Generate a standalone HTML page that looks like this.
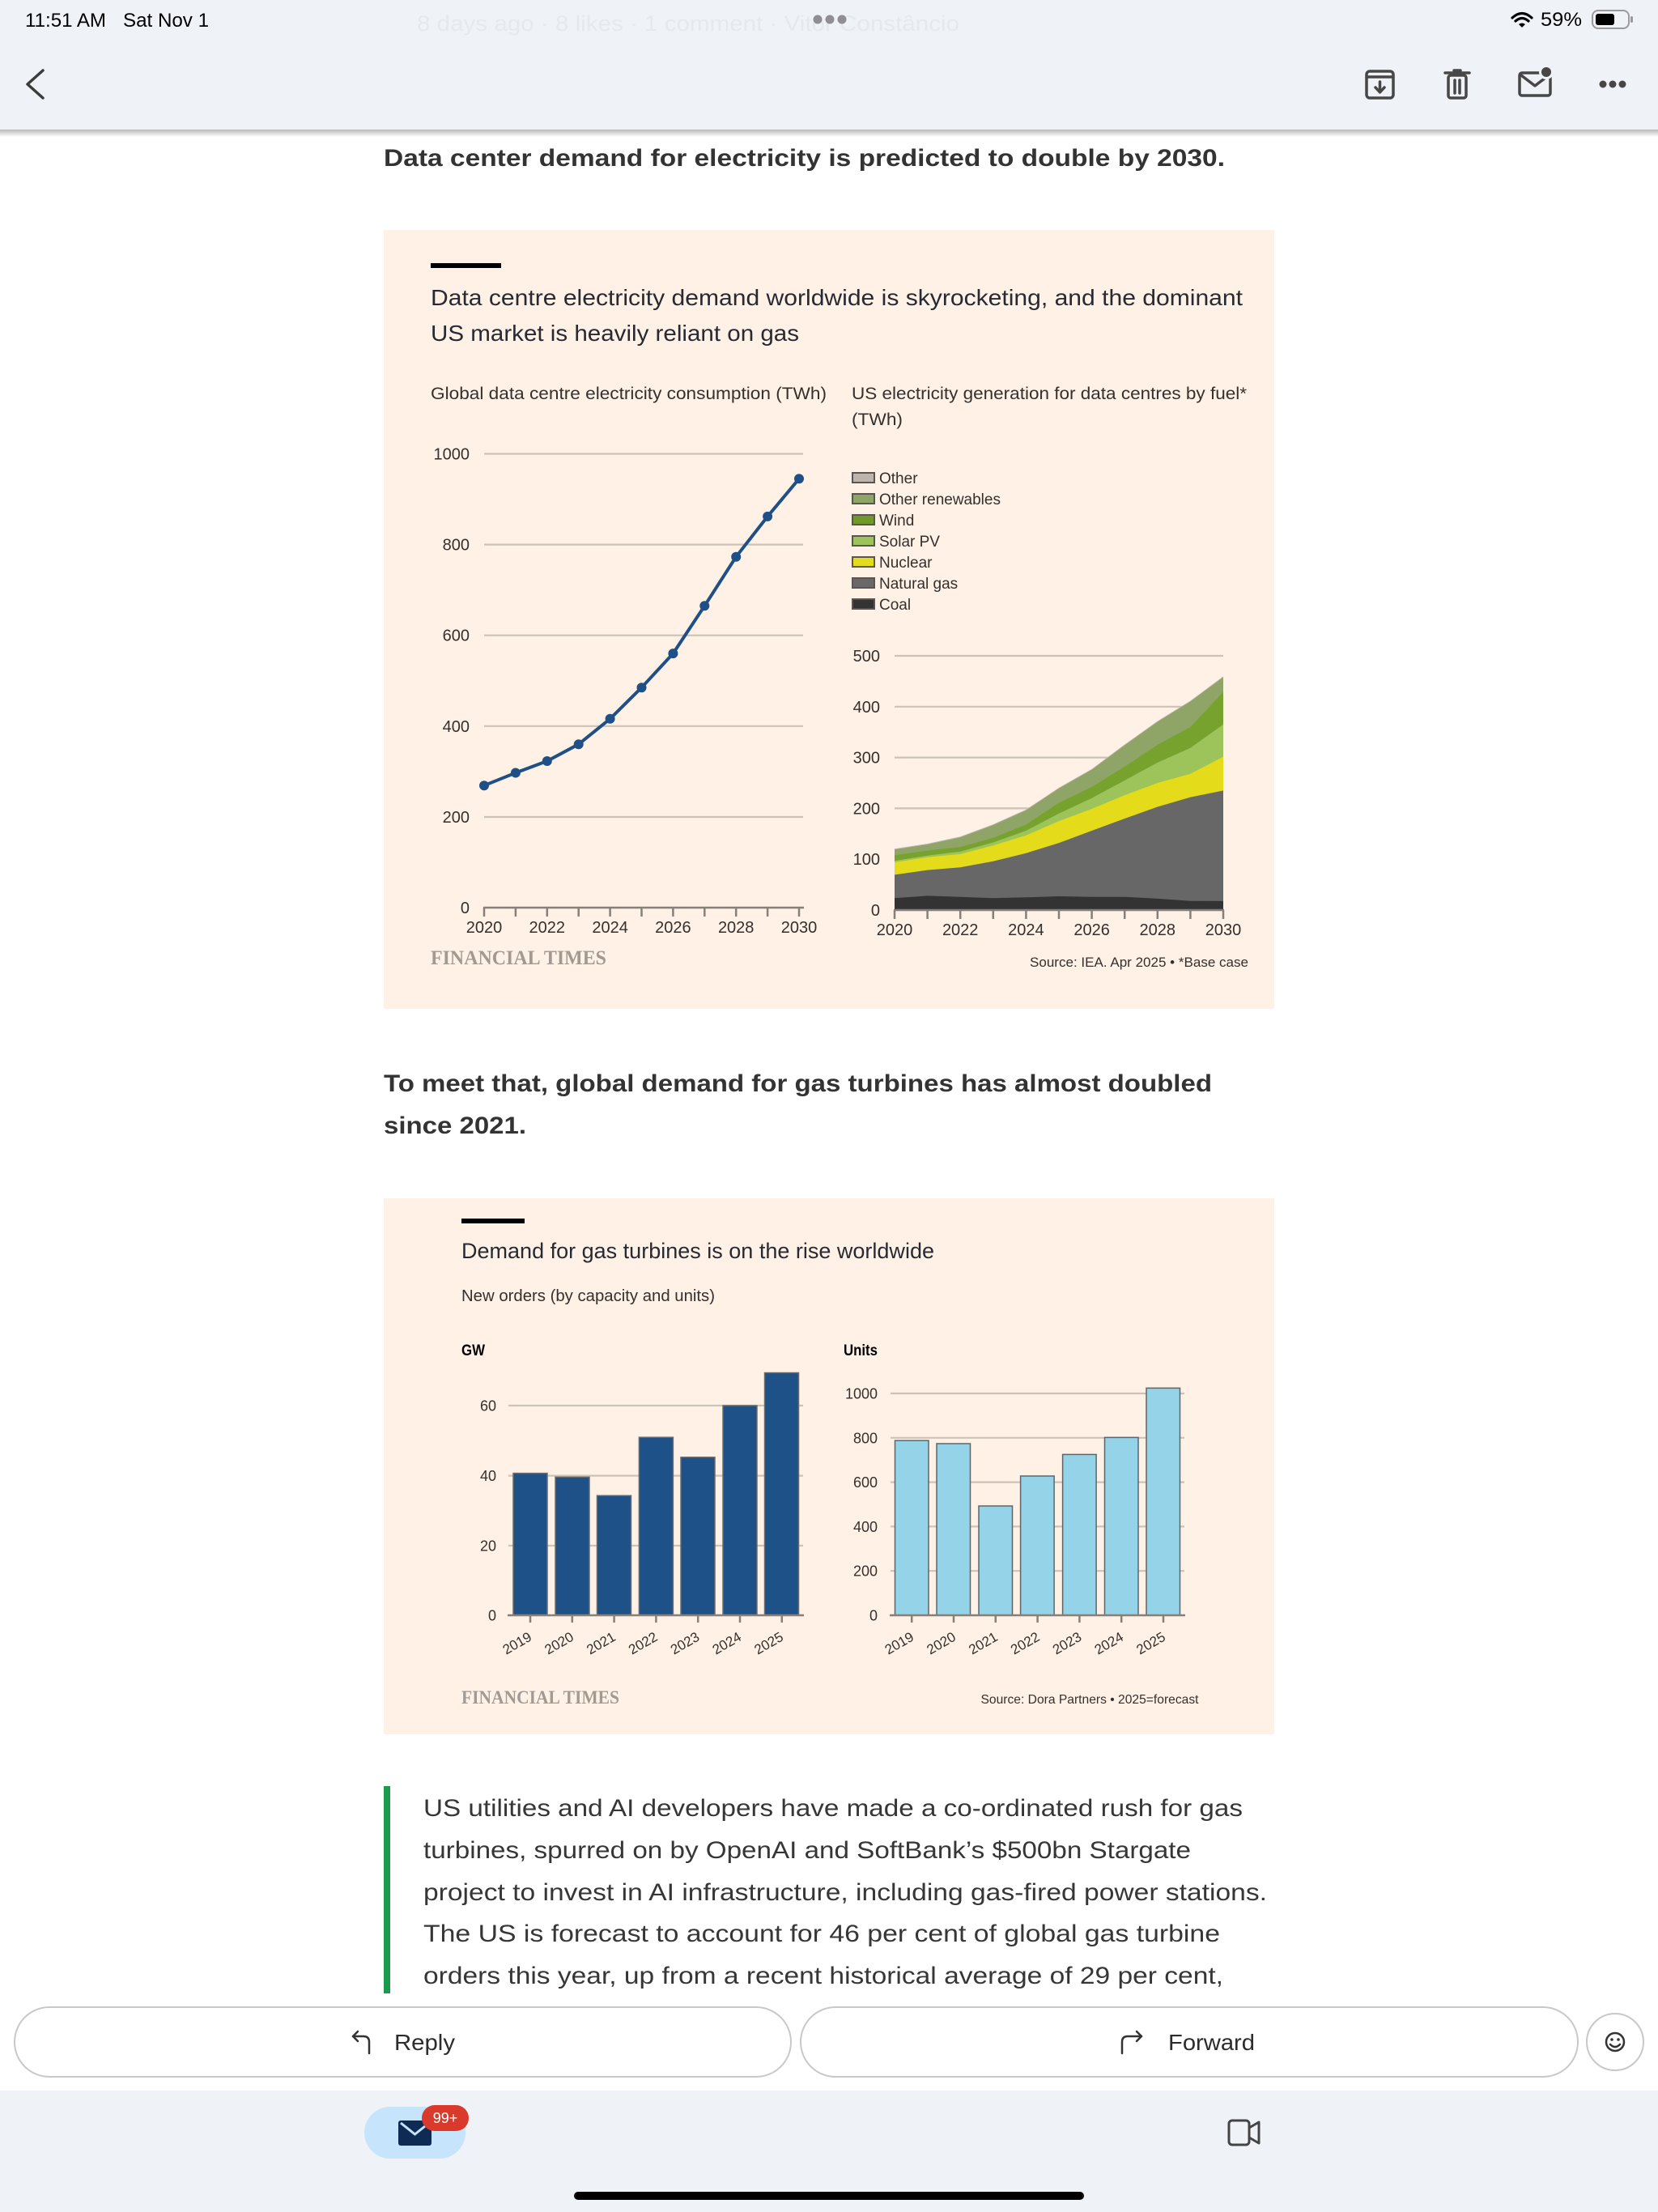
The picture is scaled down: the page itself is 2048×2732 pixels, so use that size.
<!DOCTYPE html>
<html>
<head>
<meta charset="utf-8">
<style>
  html, body { margin:0; padding:0; background:#ffffff; }
  svg { display:block; }
  text { font-family: "Liberation Sans", "DejaVu Sans", sans-serif; }
  .serif { font-family: "Liberation Serif", serif; }
</style>
</head>
<body>
<svg width="2048" height="2732" viewBox="0 0 2048 2732" xmlns="http://www.w3.org/2000/svg">
  <defs>
    <linearGradient id="sh" x1="0" y1="0" x2="0" y2="1">
      <stop offset="0" stop-color="#000" stop-opacity="0.28"/>
      <stop offset="1" stop-color="#000" stop-opacity="0"/>
    </linearGradient>
  </defs>
  <rect x="0" y="0" width="2048" height="2732" fill="#ffffff"/>

  <!-- ===== Top header ===== -->
  <rect x="0" y="0" width="2048" height="160" fill="#eff2f7"/>
  <rect x="0" y="160" width="2048" height="9" fill="url(#sh)"/>
  <text x="515" y="38" font-size="27" fill="#e5e8ed" textLength="670" lengthAdjust="spacingAndGlyphs">8 days ago · 8 likes · 1 comment · Vitor Constâncio</text>
  <text x="31" y="33" font-size="24" fill="#000" textLength="100" lengthAdjust="spacingAndGlyphs">11:51 AM</text>
  <text x="152" y="33" font-size="24" fill="#000" textLength="106" lengthAdjust="spacingAndGlyphs">Sat Nov 1</text>
  <circle cx="1010" cy="24" r="5.5" fill="#8e8e93"/>
  <circle cx="1025" cy="24" r="5.5" fill="#8e8e93"/>
  <circle cx="1040" cy="24" r="5.5" fill="#8e8e93"/>
  <!-- wifi -->
  <g fill="none" stroke="#000" stroke-width="3.2" stroke-linecap="round">
    <path d="M1868 22 Q1880 11 1892 22"/>
    <path d="M1872 26 Q1880 19 1888 26"/>
  </g>
  <path d="M1876 30 L1880 34 L1884 30 Q1880 27 1876 30 Z" fill="#000"/>
  <text x="1903" y="32" font-size="24" fill="#000" textLength="51" lengthAdjust="spacingAndGlyphs">59%</text>
  <rect x="1967" y="13" width="45" height="22" rx="7" fill="none" stroke="#9a9a9a" stroke-width="2"/>
  <rect x="1971" y="17" width="23" height="14" rx="3" fill="#000"/>
  <rect x="2014" y="20" width="3" height="8" rx="1.5" fill="#9a9a9a"/>
  <!-- back chevron -->
  <polyline points="53,87 34,104 53,121" fill="none" stroke="#3c3c3c" stroke-width="3.5" stroke-linecap="round" stroke-linejoin="round"/>
  <!-- archive -->
  <g fill="none" stroke="#474747" stroke-width="3.5" stroke-linejoin="round" stroke-linecap="round">
    <rect x="1688" y="88" width="33" height="33" rx="4"/>
    <line x1="1688" y1="95" x2="1721" y2="95"/>
    <line x1="1704.5" y1="101" x2="1704.5" y2="113"/>
    <polyline points="1699,108 1704.5,114 1710,108"/>
  </g>
  <!-- trash -->
  <g fill="none" stroke="#474747" stroke-width="3.5" stroke-linejoin="round" stroke-linecap="round">
    <line x1="1785" y1="90" x2="1815" y2="90"/>
    <line x1="1796" y1="87" x2="1804" y2="87"/>
    <rect x="1789" y="93" width="22" height="28" rx="3"/>
    <line x1="1797" y1="99" x2="1797" y2="115"/>
    <line x1="1803" y1="99" x2="1803" y2="115"/>
  </g>
  <!-- mail with dot -->
  <g fill="none" stroke="#474747" stroke-width="3.5" stroke-linejoin="round" stroke-linecap="round">
    <rect x="1877" y="90" width="38" height="28" rx="3"/>
    <polyline points="1879,93 1896,106 1913,93"/>
  </g>
  <circle cx="1910" cy="89" r="9" fill="#eff2f7"/>
  <circle cx="1910" cy="89" r="6" fill="#474747"/>
  <!-- more -->
  <circle cx="1980" cy="104" r="4.5" fill="#474747"/>
  <circle cx="1992" cy="104" r="4.5" fill="#474747"/>
  <circle cx="2004" cy="104" r="4.5" fill="#474747"/>

  <!-- ===== Heading 1 ===== -->
  <text x="474" y="205" font-size="30" font-weight="bold" fill="#333" textLength="1039" lengthAdjust="spacingAndGlyphs">Data center demand for electricity is predicted to double by 2030.</text>

  <!-- ===== Chart 1 ===== -->
  <rect x="474" y="284" width="1100" height="962" fill="#fff1e5"/>
  <rect x="532" y="325" width="87" height="6" fill="#000"/>
  <text x="532" y="377" font-size="28" fill="#262a33" textLength="1003" lengthAdjust="spacingAndGlyphs">Data centre electricity demand worldwide is skyrocketing, and the dominant</text>
  <text x="532" y="421" font-size="28" fill="#262a33" textLength="455" lengthAdjust="spacingAndGlyphs">US market is heavily reliant on gas</text>
  <text x="532" y="493" font-size="21" fill="#33302e" textLength="489" lengthAdjust="spacingAndGlyphs">Global data centre electricity consumption (TWh)</text>
  <text x="1052" y="493" font-size="21" fill="#33302e" textLength="488" lengthAdjust="spacingAndGlyphs">US electricity generation for data centres by fuel*</text>
  <text x="1052" y="525" font-size="21" fill="#33302e" textLength="63" lengthAdjust="spacingAndGlyphs">(TWh)</text>

  <!-- left line chart -->
  <g stroke="#ccc2b8" stroke-width="2.2">
    <line x1="598" y1="560.5" x2="992" y2="560.5"/>
    <line x1="598" y1="672.6" x2="992" y2="672.6"/>
    <line x1="598" y1="784.7" x2="992" y2="784.7"/>
    <line x1="598" y1="896.8" x2="992" y2="896.8"/>
    <line x1="598" y1="1009" x2="992" y2="1009"/>
  </g>
  <g font-size="20" fill="#33302e" text-anchor="end">
    <text x="580" y="567.5">1000</text>
    <text x="580" y="679.6">800</text>
    <text x="580" y="791.7">600</text>
    <text x="580" y="903.8">400</text>
    <text x="580" y="1016">200</text>
    <text x="580" y="1128">0</text>
  </g>
  <g stroke="#86807a" stroke-width="2.5">
    <line x1="597" y1="1121" x2="993" y2="1121"/>
    <line x1="598" y1="1121" x2="598" y2="1132"/>
    <line x1="636.9" y1="1121" x2="636.9" y2="1132"/>
    <line x1="675.8" y1="1121" x2="675.8" y2="1132"/>
    <line x1="714.7" y1="1121" x2="714.7" y2="1132"/>
    <line x1="753.6" y1="1121" x2="753.6" y2="1132"/>
    <line x1="792.5" y1="1121" x2="792.5" y2="1132"/>
    <line x1="831.4" y1="1121" x2="831.4" y2="1132"/>
    <line x1="870.3" y1="1121" x2="870.3" y2="1132"/>
    <line x1="909.2" y1="1121" x2="909.2" y2="1132"/>
    <line x1="948.1" y1="1121" x2="948.1" y2="1132"/>
    <line x1="987" y1="1121" x2="987" y2="1132"/>
  </g>
  <g font-size="20" fill="#33302e" text-anchor="middle">
    <text x="598" y="1152">2020</text>
    <text x="675.8" y="1152">2022</text>
    <text x="753.6" y="1152">2024</text>
    <text x="831.4" y="1152">2026</text>
    <text x="909.2" y="1152">2028</text>
    <text x="987" y="1152">2030</text>
  </g>
  <polyline points="598,970.2 636.9,954.5 675.8,940 714.7,919.2 753.6,887.8 792.5,849.2 831.4,807.1 870.3,748.3 909.2,687.7 948.1,637.9 987,591.3" fill="none" stroke="#1f4f87" stroke-width="4" stroke-linejoin="round"/>
  <g fill="#1f4f87">
    <circle cx="598" cy="970.2" r="6"/>
    <circle cx="636.9" cy="954.5" r="6"/>
    <circle cx="675.8" cy="940" r="6"/>
    <circle cx="714.7" cy="919.2" r="6"/>
    <circle cx="753.6" cy="887.8" r="6"/>
    <circle cx="792.5" cy="849.2" r="6"/>
    <circle cx="831.4" cy="807.1" r="6"/>
    <circle cx="870.3" cy="748.3" r="6"/>
    <circle cx="909.2" cy="687.7" r="6"/>
    <circle cx="948.1" cy="637.9" r="6"/>
    <circle cx="987" cy="591.3" r="6"/>
  </g>
  <text class="serif" x="532" y="1191" font-size="25" font-weight="bold" fill="#a09a93" textLength="217" lengthAdjust="spacingAndGlyphs">FINANCIAL TIMES</text>

  <!-- legend -->
  <g stroke="#5a5550" stroke-width="2">
    <rect x="1053" y="584" width="27" height="12" fill="#bcb4ad"/>
    <rect x="1053" y="610" width="27" height="12" fill="#8fa567"/>
    <rect x="1053" y="636" width="27" height="12" fill="#6f9a2a"/>
    <rect x="1053" y="662" width="27" height="12" fill="#9cc45a"/>
    <rect x="1053" y="688" width="27" height="12" fill="#e3dc1c"/>
    <rect x="1053" y="714" width="27" height="12" fill="#6b6869"/>
    <rect x="1053" y="740" width="27" height="12" fill="#333333"/>
  </g>
  <g font-size="19" fill="#33302e">
    <text x="1086" y="597">Other</text>
    <text x="1086" y="623">Other renewables</text>
    <text x="1086" y="649">Wind</text>
    <text x="1086" y="675">Solar PV</text>
    <text x="1086" y="701">Nuclear</text>
    <text x="1086" y="727">Natural gas</text>
    <text x="1086" y="753">Coal</text>
  </g>

  <!-- right stacked area chart -->
  <g stroke="#ccc2b8" stroke-width="2.2">
    <line x1="1105" y1="810" x2="1511" y2="810"/>
    <line x1="1105" y1="872.8" x2="1511" y2="872.8"/>
    <line x1="1105" y1="935.6" x2="1511" y2="935.6"/>
    <line x1="1105" y1="998.4" x2="1511" y2="998.4"/>
    <line x1="1105" y1="1061.2" x2="1511" y2="1061.2"/>
  </g>
  <g font-size="20" fill="#33302e" text-anchor="end">
    <text x="1087" y="817">500</text>
    <text x="1087" y="879.8">400</text>
    <text x="1087" y="942.6">300</text>
    <text x="1087" y="1005.4">200</text>
    <text x="1087" y="1068.2">100</text>
    <text x="1087" y="1131">0</text>
  </g>
  <polygon fill="#bcb4ad" points="1105,1124 1105,1048.3 1145.6,1042 1186.2,1033.2 1226.8,1018.1 1267.4,999.9 1308,972.9 1348.6,949.7 1389.2,919.5 1429.8,890.6 1470.4,865.5 1511,835.4 1511,1124"/>
  <polygon fill="#8fa567" points="1105,1124 1105,1049.3 1145.6,1043 1186.2,1034.2 1226.8,1019.1 1267.4,1000.9 1308,973.9 1348.6,950.7 1389.2,920.5 1429.8,891.6 1470.4,866.5 1511,836.4 1511,1124"/>
  <polygon fill="#77a22d" points="1105,1124 1105,1056.2 1145.6,1050.5 1186.2,1046.1 1226.8,1034.8 1267.4,1018.5 1308,991.5 1348.6,972 1389.2,946.9 1429.8,919.9 1470.4,897.9 1511,854.6 1511,1124"/>
  <polygon fill="#9dc35b" points="1105,1124 1105,1063.1 1145.6,1056.8 1186.2,1051.8 1226.8,1040.5 1267.4,1026 1308,1004.7 1348.6,985.8 1389.2,963.9 1429.8,941.9 1470.4,923.7 1511,894.8 1511,1124"/>
  <polygon fill="#e4dc1b" points="1105,1124 1105,1065 1145.6,1058.7 1186.2,1054.9 1226.8,1044.2 1267.4,1031.7 1308,1014.1 1348.6,999 1389.2,982.1 1429.8,967 1470.4,955.7 1511,934.6 1511,1124"/>
  <polygon fill="#676767" points="1105,1124 1105,1080.4 1145.6,1074.6 1186.2,1071.2 1226.8,1063.7 1267.4,1053.7 1308,1041.1 1348.6,1026 1389.2,1011 1429.8,996.5 1470.4,984.6 1511,976.4 1511,1124"/>
  <polygon fill="#333333" points="1105,1124 1105,1109.2 1145.6,1106.4 1186.2,1107.7 1226.8,1109.2 1267.4,1108.3 1308,1107 1348.6,1107.7 1389.2,1107.7 1429.8,1109.9 1470.4,1112.7 1511,1112.9 1511,1124"/>
  <g stroke="#86807a" stroke-width="2.5">
    <line x1="1104" y1="1124" x2="1512" y2="1124"/>
    <line x1="1105" y1="1124" x2="1105" y2="1135"/>
    <line x1="1145.6" y1="1124" x2="1145.6" y2="1135"/>
    <line x1="1186.2" y1="1124" x2="1186.2" y2="1135"/>
    <line x1="1226.8" y1="1124" x2="1226.8" y2="1135"/>
    <line x1="1267.4" y1="1124" x2="1267.4" y2="1135"/>
    <line x1="1308" y1="1124" x2="1308" y2="1135"/>
    <line x1="1348.6" y1="1124" x2="1348.6" y2="1135"/>
    <line x1="1389.2" y1="1124" x2="1389.2" y2="1135"/>
    <line x1="1429.8" y1="1124" x2="1429.8" y2="1135"/>
    <line x1="1470.4" y1="1124" x2="1470.4" y2="1135"/>
    <line x1="1511" y1="1124" x2="1511" y2="1135"/>
  </g>
  <g font-size="20" fill="#33302e" text-anchor="middle">
    <text x="1105" y="1155">2020</text>
    <text x="1186.2" y="1155">2022</text>
    <text x="1267.4" y="1155">2024</text>
    <text x="1348.6" y="1155">2026</text>
    <text x="1429.8" y="1155">2028</text>
    <text x="1511" y="1155">2030</text>
  </g>
  <text x="1272" y="1194" font-size="16.5" fill="#33302e" textLength="270" lengthAdjust="spacingAndGlyphs">Source: IEA. Apr 2025 • *Base case</text>

  <!-- ===== Heading 2 ===== -->
  <text x="474" y="1348" font-size="30" font-weight="bold" fill="#333" textLength="1023" lengthAdjust="spacingAndGlyphs">To meet that, global demand for gas turbines has almost doubled</text>
  <text x="474" y="1400" font-size="30" font-weight="bold" fill="#333" textLength="176" lengthAdjust="spacingAndGlyphs">since 2021.</text>

  <!-- ===== Chart 2 ===== -->
  <rect x="474" y="1480" width="1100" height="662" fill="#fff1e5"/>
  <rect x="570" y="1505" width="78" height="6" fill="#000"/>
  <text x="570" y="1554" font-size="27" fill="#262a33" textLength="584" lengthAdjust="spacingAndGlyphs">Demand for gas turbines is on the rise worldwide</text>
  <text x="570" y="1607" font-size="20" fill="#33302e" textLength="313" lengthAdjust="spacingAndGlyphs">New orders (by capacity and units)</text>
  <text x="570" y="1674" font-size="19" font-weight="bold" fill="#000" textLength="29" lengthAdjust="spacingAndGlyphs">GW</text>
  <text x="1042" y="1674" font-size="19" font-weight="bold" fill="#000" textLength="42" lengthAdjust="spacingAndGlyphs">Units</text>

  <!-- GW bars -->
  <g stroke="#ccc2b8" stroke-width="2.2">
    <line x1="628" y1="1736" x2="992" y2="1736"/>
    <line x1="628" y1="1822.6" x2="992" y2="1822.6"/>
    <line x1="628" y1="1909" x2="992" y2="1909"/>
  </g>
  <g font-size="18" fill="#33302e" text-anchor="end">
    <text x="613" y="1742.5">60</text>
    <text x="613" y="1829">40</text>
    <text x="613" y="1915.5">20</text>
    <text x="613" y="2001.5">0</text>
  </g>
  <g fill="#1f5189" stroke="#6a6a6a" stroke-width="1.5">
    <rect x="634" y="1819.6" width="42" height="175.4"/>
    <rect x="686" y="1824.3" width="42" height="170.7"/>
    <rect x="737.5" y="1847.2" width="42" height="147.8"/>
    <rect x="789.4" y="1775.2" width="42" height="219.8"/>
    <rect x="841" y="1799.8" width="42" height="195.2"/>
    <rect x="893" y="1736" width="42" height="259"/>
    <rect x="944.5" y="1695.5" width="42" height="299.5"/>
  </g>
  <g stroke="#86807a" stroke-width="2.5">
    <line x1="627" y1="1995" x2="993" y2="1995"/>
    <line x1="655" y1="1995" x2="655" y2="2004"/>
    <line x1="706.8" y1="1995" x2="706.8" y2="2004"/>
    <line x1="758.6" y1="1995" x2="758.6" y2="2004"/>
    <line x1="810.4" y1="1995" x2="810.4" y2="2004"/>
    <line x1="862.2" y1="1995" x2="862.2" y2="2004"/>
    <line x1="914" y1="1995" x2="914" y2="2004"/>
    <line x1="965.8" y1="1995" x2="965.8" y2="2004"/>
  </g>
  <g font-size="17" fill="#33302e" text-anchor="end">
    <text transform="translate(658,2025) rotate(-30)">2019</text>
    <text transform="translate(709.8,2025) rotate(-30)">2020</text>
    <text transform="translate(761.6,2025) rotate(-30)">2021</text>
    <text transform="translate(813.4,2025) rotate(-30)">2022</text>
    <text transform="translate(865.2,2025) rotate(-30)">2023</text>
    <text transform="translate(917,2025) rotate(-30)">2024</text>
    <text transform="translate(968.8,2025) rotate(-30)">2025</text>
  </g>

  <!-- Units bars -->
  <g stroke="#ccc2b8" stroke-width="2.2">
    <line x1="1100" y1="1721" x2="1463" y2="1721"/>
    <line x1="1100" y1="1775.8" x2="1463" y2="1775.8"/>
    <line x1="1100" y1="1830.6" x2="1463" y2="1830.6"/>
    <line x1="1100" y1="1885.4" x2="1463" y2="1885.4"/>
    <line x1="1100" y1="1940.2" x2="1463" y2="1940.2"/>
  </g>
  <g font-size="18" fill="#33302e" text-anchor="end">
    <text x="1084" y="1727.5">1000</text>
    <text x="1084" y="1782.3">800</text>
    <text x="1084" y="1837">600</text>
    <text x="1084" y="1892">400</text>
    <text x="1084" y="1946.7">200</text>
    <text x="1084" y="2001.5">0</text>
  </g>
  <g fill="#95d3e8" stroke="#5f6468" stroke-width="1.5">
    <rect x="1105.5" y="1779.2" width="41.5" height="215.8"/>
    <rect x="1157" y="1783" width="41.5" height="212"/>
    <rect x="1209" y="1860" width="41.5" height="135"/>
    <rect x="1260.6" y="1823" width="41.5" height="172"/>
    <rect x="1312.6" y="1796.4" width="41.5" height="198.6"/>
    <rect x="1364.5" y="1775.4" width="41.5" height="219.6"/>
    <rect x="1416" y="1714.4" width="41.5" height="280.6"/>
  </g>
  <g stroke="#86807a" stroke-width="2.5">
    <line x1="1099" y1="1995" x2="1464" y2="1995"/>
    <line x1="1126.2" y1="1995" x2="1126.2" y2="2004"/>
    <line x1="1178" y1="1995" x2="1178" y2="2004"/>
    <line x1="1229.8" y1="1995" x2="1229.8" y2="2004"/>
    <line x1="1281.6" y1="1995" x2="1281.6" y2="2004"/>
    <line x1="1333.4" y1="1995" x2="1333.4" y2="2004"/>
    <line x1="1385.2" y1="1995" x2="1385.2" y2="2004"/>
    <line x1="1437" y1="1995" x2="1437" y2="2004"/>
  </g>
  <g font-size="17" fill="#33302e" text-anchor="end">
    <text transform="translate(1130,2025) rotate(-30)">2019</text>
    <text transform="translate(1181.8,2025) rotate(-30)">2020</text>
    <text transform="translate(1233.6,2025) rotate(-30)">2021</text>
    <text transform="translate(1285.4,2025) rotate(-30)">2022</text>
    <text transform="translate(1337.2,2025) rotate(-30)">2023</text>
    <text transform="translate(1389,2025) rotate(-30)">2024</text>
    <text transform="translate(1440.8,2025) rotate(-30)">2025</text>
  </g>
  <text class="serif" x="570" y="2104" font-size="23" font-weight="bold" fill="#a09a93" textLength="195" lengthAdjust="spacingAndGlyphs">FINANCIAL TIMES</text>
  <text x="1211.5" y="2104" font-size="16" fill="#33302e" textLength="269" lengthAdjust="spacingAndGlyphs">Source: Dora Partners • 2025=forecast</text>

  <!-- ===== Blockquote ===== -->
  <rect x="474" y="2206" width="8" height="256" fill="#1a9a4a"/>
  <g font-size="30" fill="#363636">
    <text x="523" y="2243" textLength="1012" lengthAdjust="spacingAndGlyphs">US utilities and AI developers have made a co-ordinated rush for gas</text>
    <text x="523" y="2295" textLength="948" lengthAdjust="spacingAndGlyphs">turbines, spurred on by OpenAI and SoftBank’s $500bn Stargate</text>
    <text x="523" y="2347" textLength="1042" lengthAdjust="spacingAndGlyphs">project to invest in AI infrastructure, including gas-fired power stations.</text>
    <text x="523" y="2398" textLength="984" lengthAdjust="spacingAndGlyphs">The US is forecast to account for 46 per cent of global gas turbine</text>
    <text x="523" y="2450" textLength="988" lengthAdjust="spacingAndGlyphs">orders this year, up from a recent historical average of 29 per cent,</text>
  </g>

  <!-- ===== Reply / Forward bar ===== -->
  <rect x="0" y="2464" width="2048" height="118" fill="#ffffff"/>
  <rect x="18" y="2479" width="959" height="86" rx="43" fill="#ffffff" stroke="#c8c8c8" stroke-width="2"/>
  <rect x="989" y="2479" width="960" height="86" rx="43" fill="#ffffff" stroke="#c8c8c8" stroke-width="2"/>
  <circle cx="1995" cy="2522" r="35" fill="#ffffff" stroke="#c8c8c8" stroke-width="2"/>
  <g fill="none" stroke="#333" stroke-width="2.5" stroke-linecap="round" stroke-linejoin="round">
    <circle cx="1995" cy="2522" r="11"/>
    <path d="M1989 2525 Q1995 2531 2001 2525"/>
    <path d="M456 2536 V2522 Q456 2515 449 2515 H436"/>
    <polyline points="442,2509 436,2515 442,2521"/>
    <path d="M1386 2536 V2522 Q1386 2515 1393 2515 H1410"/>
    <polyline points="1404,2509 1410,2515 1404,2521"/>
  </g>
  <circle cx="1991" cy="2519" r="1.8" fill="#333"/>
  <circle cx="1999" cy="2519" r="1.8" fill="#333"/>
  <text x="487" y="2532" font-size="28" fill="#2c2c2c" textLength="75" lengthAdjust="spacingAndGlyphs">Reply</text>
  <text x="1443" y="2532" font-size="28" fill="#2c2c2c" textLength="107" lengthAdjust="spacingAndGlyphs">Forward</text>

  <!-- ===== Bottom tab bar ===== -->
  <rect x="0" y="2582" width="2048" height="150" fill="#eff3f8"/>
  <rect x="450" y="2602" width="125" height="64" rx="32" fill="#c6e4fb"/>
  <rect x="492" y="2619" width="41" height="31" rx="3" fill="#0d2b55"/>
  <polyline points="495,2622 512.5,2636 530,2622" fill="none" stroke="#c6e4fb" stroke-width="3"/>
  <rect x="521" y="2600" width="58" height="32" rx="16" fill="#d93a2b"/>
  <text x="550" y="2622" font-size="18" fill="#ffffff" text-anchor="middle">99+</text>
  <rect x="1518" y="2619" width="25" height="30" rx="4" fill="none" stroke="#444" stroke-width="3"/>
  <path d="M1543 2628 L1555 2621 V2647 L1543 2640 Z" fill="none" stroke="#444" stroke-width="3" stroke-linejoin="round"/>
  <rect x="709" y="2707" width="630" height="10" rx="5" fill="#000"/>
</svg>
</body>
</html>
